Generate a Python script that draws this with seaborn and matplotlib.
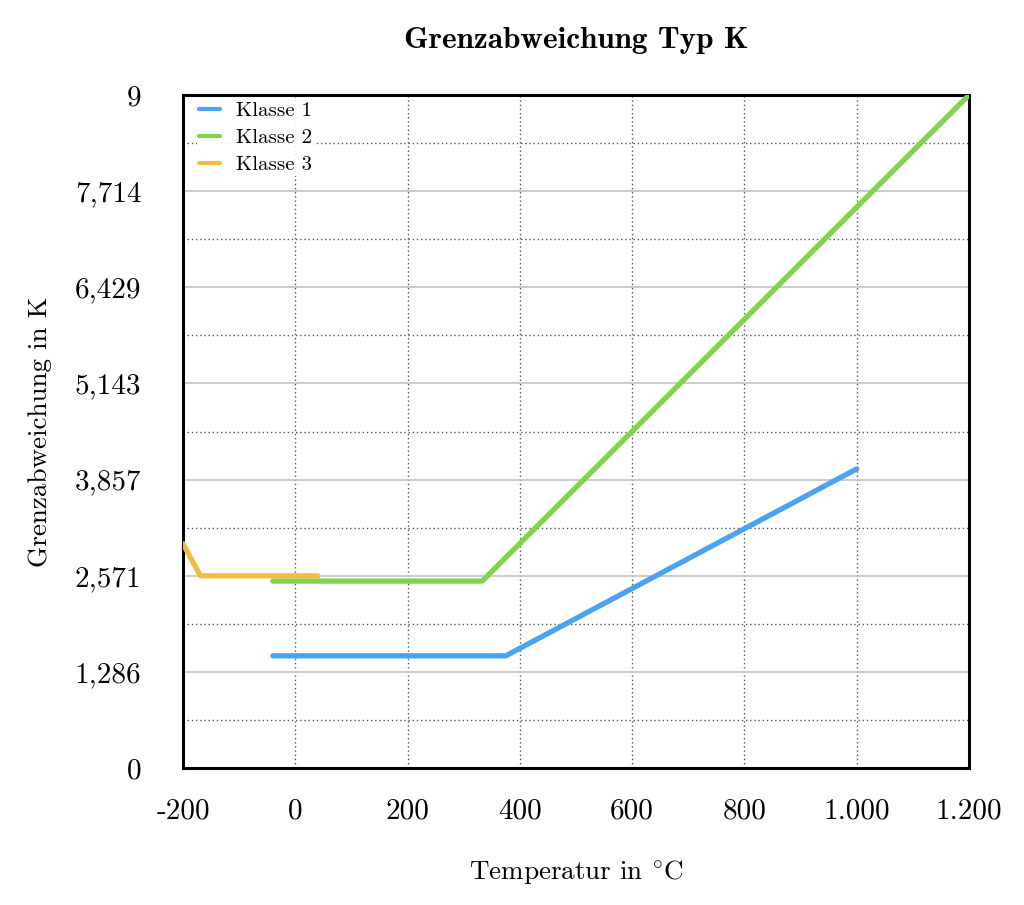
import numpy as np
import pandas as pd
import matplotlib
matplotlib.use("Agg")
import matplotlib.pyplot as plt
import seaborn as sns
from matplotlib.ticker import FixedLocator, FuncFormatter

# Data
k1_x = [-40, 375, 1000]
k1_y = [1.5, 1.5, 4.0]
k2_x = [-40, 333, 1200]
k2_y = [2.5, 2.5, 9.0]
k3_x = [-200, -169, 40]
k3_y = [3.0, 2.57, 2.57]
series_names = ["Klasse 1", "Klasse 2", "Klasse 3"]
colors = ["#4aa3f2", "#7ed34f", "#f0be3e"]
x_ticks = [-200, 0, 200, 400, 600, 800, 1000, 1200]
y_ticks = [0, 9/7, 18/7, 27/7, 36/7, 45/7, 54/7, 9]

frames = []
for name, xs, ys in zip(series_names, [k1_x, k2_x, k3_x], [k1_y, k2_y, k3_y]):
    frames.append(pd.DataFrame({"Temperatur": xs, "Abweichung": ys, "Klasse": name}))
df = pd.concat(frames, ignore_index=True)

sns.set_theme(style="white")
plt.rcParams["font.family"] = ["cmr10", "DejaVu Serif"]
plt.rcParams["mathtext.fontset"] = "cm"
plt.rcParams["axes.unicode_minus"] = False
plt.rcParams["text.color"] = "black"
plt.rcParams["axes.labelcolor"] = "black"

fig = plt.figure(figsize=(10.24, 9.05), dpi=100)
ax = fig.add_axes([0.1787, 0.1514, 0.9463 - 0.1787, 0.895 - 0.1514])

sns.lineplot(data=df, x="Temperatur", y="Abweichung", hue="Klasse",
             palette=dict(zip(series_names, colors)), linewidth=3.8,
             sort=False, estimator=None, ax=ax, zorder=3)

ax.set_xlim(-200, 1200)
ax.set_ylim(0, 9)
ax.xaxis.set_major_locator(FixedLocator(x_ticks))
ax.yaxis.set_major_locator(FixedLocator(y_ticks))
ax.yaxis.set_minor_locator(FixedLocator([(i + 0.5) * 9/7 for i in range(7)]))

def xfmt(v, pos):
    v = int(round(v))
    s = f"{abs(v):,}".replace(",", ".")
    return ("-" if v < 0 else "") + s

def yfmt(v, pos):
    if abs(v - round(v)) < 1e-6:
        return str(int(round(v)))
    return f"{v:.3f}".replace(".", ",")

ax.xaxis.set_major_formatter(FuncFormatter(xfmt))
ax.yaxis.set_major_formatter(FuncFormatter(yfmt))

ax.grid(False)
ax.yaxis.grid(True, which="major", color="#c4c4c4", linewidth=1.2, linestyle="-", zorder=0)
ax.yaxis.grid(True, which="minor", color="#555555", linewidth=1.0, linestyle=(0, (1, 2)), zorder=0)
ax.xaxis.grid(True, which="major", color="#555555", linewidth=1.0, linestyle=(0, (1, 2)), zorder=0)
ax.set_axisbelow(True)

for s in ax.spines.values():
    s.set_visible(True)
    s.set_color("black")
    s.set_linewidth(2.2)

ax.tick_params(axis="both", which="major", direction="in", length=6, width=2,
               labelsize=21, color="black", labelcolor="black")
ax.tick_params(axis="y", which="minor", length=0)
ax.tick_params(axis="y", pad=30)
ax.tick_params(axis="x", pad=22)

ax.set_xlabel(r"Temperatur in $^{\circ}$C", fontsize=19.5, labelpad=24, color="black")
ax.set_ylabel("Grenzabweichung in K", fontsize=19.5, labelpad=16, color="black")
ax.set_title("Grenzabweichung Typ K", fontsize=22.5, fontweight="bold",
             family=["cmb10", "DejaVu Serif"], pad=34, color="black")

leg = ax.legend(loc="upper left", bbox_to_anchor=(0.0064, 1.0074), frameon=True,
                fontsize=15, handlelength=1.0, handletextpad=0.75,
                labelspacing=0.4, borderpad=0.1, borderaxespad=0.45)
leg.get_frame().set_edgecolor("none")
leg.get_frame().set_facecolor("white")
leg.get_frame().set_alpha(0.9)
for line in leg.get_lines():
    line.set_linewidth(3)
for t in leg.get_texts():
    t.set_color("black")

fig.savefig("out.png", dpi=100)
